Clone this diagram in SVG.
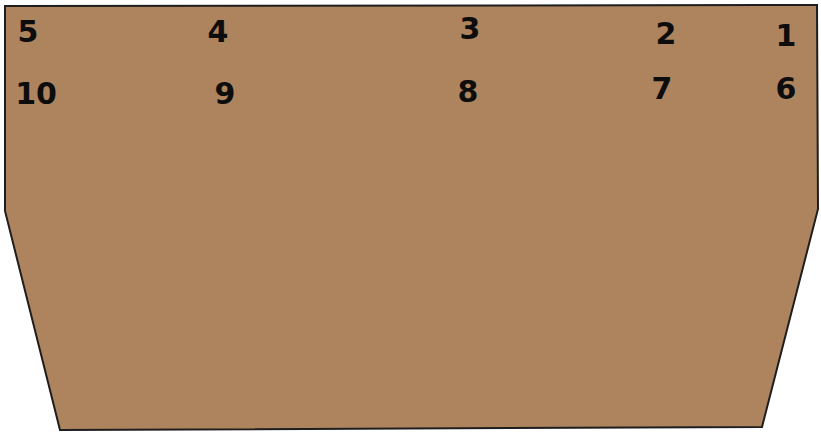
<svg xmlns="http://www.w3.org/2000/svg" width="821" height="433" viewBox="0 0 821 433">
<style>
.lbl{font-family:"DejaVu Sans","Verdana",sans-serif;font-weight:bold;font-size:30px;fill:#0d0d0d;text-anchor:middle}
</style>
<rect width="821" height="433" fill="#ffffff"/>
<g id="shape">
<polygon points="5,6 817,5 818,209 762,427 60,430 5,211" fill="#ad845e" stroke="#1e1e1e" stroke-width="2" stroke-linejoin="miter"/>
</g>
<g id="labels">
<text class="lbl" x="28" y="42">5</text>
<text class="lbl" x="218" y="42">4</text>
<text class="lbl" x="470" y="39">3</text>
<text class="lbl" x="666" y="44">2</text>
<text class="lbl" x="786" y="46">1</text>
<text class="lbl" x="36" y="104">10</text>
<text class="lbl" x="225" y="104">9</text>
<text class="lbl" x="468" y="102">8</text>
<text class="lbl" x="662" y="99">7</text>
<text class="lbl" x="786" y="99">6</text>
</g>
</svg>
